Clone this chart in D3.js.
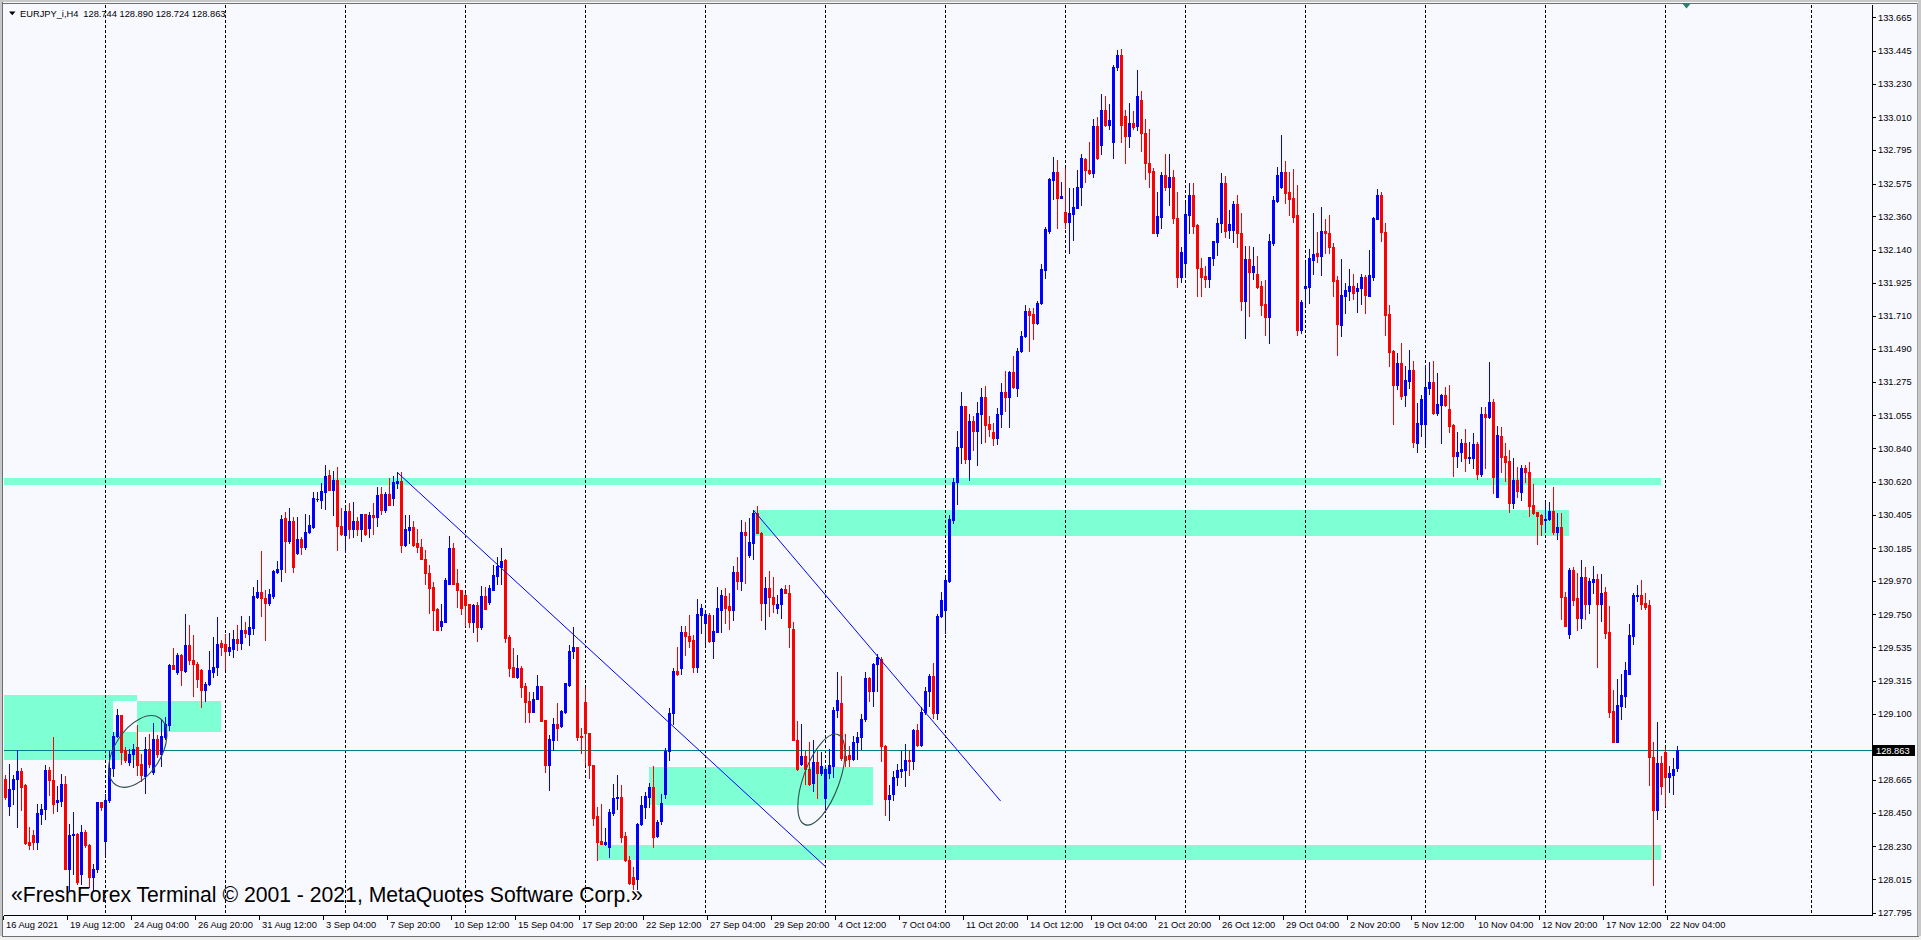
<!DOCTYPE html>
<html><head><meta charset="utf-8">
<script src="https://cdn.jsdelivr.net/npm/d3@7"></script>
<style>html,body{margin:0;padding:0;background:#F8F8FF;overflow:hidden}</style>
</head><body><svg id="c" width="1921" height="940"></svg>
<script>
// ---------------- DATA ----------------
const symbol = "EURJPY_i,H4";
const headerValues = ["128.744", "128.890", "128.724", "128.863"];
const lastPrice = 128.863;

const opens = [
128.674,128.493,128.609,128.674,128.722,128.630,128.259,128.302,128.259,128.445,
128.477,128.729,128.668,128.521,128.528,128.637,128.084,128.302,128.313,128.051,
128.324,128.241,128.029,128.080,128.521,128.265,128.532,128.744,128.952,129.089,
128.860,128.783,128.838,128.882,128.768,128.689,128.871,128.718,128.936,128.838,
128.947,129.024,129.417,129.374,129.483,129.378,129.548,129.450,129.428,129.385,
129.253,129.297,129.374,129.406,129.564,129.559,129.511,129.527,129.592,129.564,
129.647,129.625,129.664,129.865,129.898,129.855,129.826,129.870,130.029,130.051,
130.384,130.231,130.362,130.150,130.244,130.194,130.288,130.325,130.504,130.500,
130.555,130.664,130.565,130.631,130.332,130.270,130.428,130.310,130.362,130.310,
130.406,130.318,130.402,130.391,130.537,130.434,130.537,130.511,130.609,130.625,
130.205,130.303,130.325,130.216,130.194,130.117,130.019,129.932,129.785,129.676,
129.702,129.947,130.183,129.958,129.910,129.877,129.816,129.702,129.811,129.669,
129.873,129.833,129.910,130.004,130.063,130.106,129.604,129.407,129.341,129.396,
129.282,129.182,129.112,129.199,129.282,129.057,128.762,128.927,129.035,129.020,
129.112,129.287,129.512,129.534,128.952,129.178,128.974,128.762,128.428,128.266,
128.244,128.227,128.450,128.544,128.554,128.297,128.143,128.030,128.019,128.375,
128.489,128.554,128.616,128.297,128.397,128.572,128.856,129.101,129.381,129.396,
129.637,129.608,129.586,129.407,129.746,129.696,129.746,129.578,129.637,129.779,
129.870,129.805,129.779,130.030,129.971,130.292,130.139,130.220,130.413,130.286,
129.827,129.921,129.862,129.790,129.818,129.914,129.892,129.658,128.930,128.773,
128.821,128.734,128.646,128.784,128.712,128.544,128.712,128.756,129.127,129.167,
128.820,128.830,128.801,128.911,128.944,129.065,129.335,129.251,129.423,129.456,
128.885,128.543,128.576,128.683,128.722,128.729,128.794,128.788,128.990,128.892,
129.114,129.251,129.348,129.107,129.740,129.782,129.968,130.369,130.620,130.849,
131.119,130.770,131.021,130.956,131.064,131.175,130.999,130.946,130.907,131.064,
131.207,131.175,131.338,131.233,131.478,131.576,131.739,131.723,131.664,131.794,
132.010,132.261,132.596,132.652,132.479,132.391,132.326,132.375,132.414,132.554,
132.733,132.662,132.642,132.955,132.831,133.060,132.962,132.847,133.337,133.418,
133.020,132.887,132.970,132.950,133.120,132.905,132.708,132.660,132.253,132.358,
132.631,132.555,132.616,132.347,131.965,132.056,132.369,132.500,132.303,132.019,
131.969,131.951,132.085,132.194,132.314,132.581,132.271,132.271,132.441,132.253,
131.807,132.078,131.997,131.982,131.903,131.785,131.698,132.188,132.463,132.555,
132.653,132.522,132.478,132.369,131.615,131.888,131.899,132.074,132.122,132.100,
132.266,132.253,132.161,131.943,131.648,131.838,131.873,131.903,131.873,131.888,
131.965,131.838,131.960,132.341,132.500,132.260,131.720,131.479,131.254,131.401,
131.187,131.283,131.351,130.873,131.000,131.000,131.237,131.274,131.069,131.123,
131.187,131.100,130.993,130.789,130.818,130.873,130.777,130.777,130.868,130.668,
131.062,131.046,131.141,130.522,130.918,130.789,130.754,130.481,130.629,130.554,
130.709,130.681,130.470,130.424,130.401,130.367,130.379,130.431,130.288,130.326,
129.866,129.620,130.044,129.855,129.725,129.998,129.821,129.962,129.980,129.821,
129.900,129.634,129.115,128.915,129.149,129.217,129.361,129.611,129.871,129.878,
129.825,129.809,128.814,128.466,128.778,128.846,128.687,128.701,128.744];

const highs = [
128.696,128.768,128.696,128.864,128.744,128.641,128.357,128.335,128.510,128.510,
128.762,128.751,128.947,128.624,128.703,128.689,128.379,128.456,128.318,128.368,
128.335,128.248,128.117,128.521,128.521,128.571,128.853,128.980,129.133,129.089,
128.882,128.871,128.904,129.024,128.838,128.947,128.969,129.039,128.958,129.057,
129.078,129.428,129.533,129.498,129.494,129.752,129.684,129.614,129.439,129.395,
129.308,129.509,129.603,129.734,129.581,129.625,129.629,129.651,129.680,129.739,
129.702,129.739,129.927,129.975,130.165,129.909,129.920,130.040,130.102,130.401,
130.423,130.445,130.391,130.391,130.259,130.406,130.402,130.550,130.550,130.609,
130.729,130.697,130.690,130.718,130.445,130.445,130.478,130.489,130.391,130.412,
130.412,130.423,130.478,130.583,130.587,130.550,130.646,130.659,130.686,130.686,
130.402,130.402,130.362,130.310,130.248,130.172,130.074,129.964,129.794,129.822,
129.986,130.266,130.216,130.047,129.910,129.888,129.822,129.822,129.833,129.938,
129.932,129.942,130.074,130.128,130.187,130.113,129.615,129.531,129.483,129.413,
129.304,129.243,129.239,129.352,129.282,129.057,128.959,129.072,129.173,129.123,
129.302,129.549,129.665,129.538,129.003,129.265,128.974,128.762,128.485,128.506,
128.347,128.478,128.638,128.697,128.631,128.325,128.165,128.095,128.380,128.559,
128.587,128.646,128.756,128.401,128.576,128.878,129.140,129.396,129.538,129.674,
129.674,129.746,129.615,129.849,129.822,129.779,129.757,129.746,129.927,129.910,
129.921,129.888,130.067,130.128,130.369,130.358,130.380,130.434,130.461,130.292,
129.997,130.037,129.993,129.877,129.921,129.943,129.943,129.702,129.053,129.035,
128.856,128.915,128.926,128.856,128.850,128.762,128.871,129.145,129.374,129.346,
128.967,128.885,128.951,128.977,129.097,129.375,129.342,129.433,129.489,129.472,
128.892,128.631,128.722,128.771,128.853,128.902,128.859,129.000,129.032,129.146,
129.277,129.358,129.433,129.750,129.896,129.988,130.402,130.646,130.956,131.207,
131.119,131.064,131.054,131.142,131.233,131.250,131.054,131.005,131.103,131.266,
131.347,131.347,131.445,131.494,131.608,131.781,131.762,131.762,131.804,132.049,
132.293,132.609,132.750,132.727,132.587,132.675,132.544,132.544,132.662,132.766,
132.740,132.847,133.001,133.011,133.164,133.151,133.099,133.353,133.451,133.457,
133.060,133.100,133.050,133.320,133.180,133.000,132.931,132.675,132.522,132.653,
132.769,132.769,132.664,132.522,132.157,132.446,132.581,132.577,132.310,132.085,
132.035,132.096,132.201,132.347,132.647,132.625,132.402,132.463,132.500,132.384,
132.166,132.166,132.161,132.100,131.938,131.943,132.244,132.494,132.682,132.894,
132.725,132.653,132.668,132.566,131.812,132.052,132.144,132.384,132.260,132.424,
132.341,132.369,132.188,131.969,132.078,131.921,132.013,131.982,131.925,131.982,
131.976,132.139,132.358,132.537,132.522,132.314,131.779,131.484,131.462,131.527,
131.381,131.483,131.410,131.137,131.192,131.387,131.403,131.410,131.335,131.198,
131.244,131.255,131.000,130.948,130.902,130.964,130.880,130.937,130.880,131.107,
131.107,131.403,131.160,130.987,130.978,130.873,130.827,130.773,130.720,130.727,
130.727,130.750,130.606,130.424,130.408,130.486,130.486,130.584,130.413,130.413,
129.900,130.053,130.060,130.021,130.105,130.060,129.992,130.071,130.014,130.014,
129.930,129.803,129.252,129.324,129.361,129.438,129.689,129.894,129.946,129.976,
129.894,129.848,128.915,129.042,128.823,128.876,128.755,128.808,128.890];

const lows = [
128.543,128.434,128.510,128.357,128.466,128.248,128.215,128.215,128.215,128.379,
128.412,128.565,128.449,128.462,128.493,128.084,127.942,128.051,127.986,127.986,
128.226,127.964,127.942,128.062,128.466,128.171,128.521,128.689,128.947,128.772,
128.783,128.762,128.751,128.696,128.659,128.580,128.751,128.707,128.816,128.755,
128.936,128.995,129.395,129.363,129.291,129.374,129.428,129.216,129.275,129.144,
129.183,129.286,129.341,129.352,129.483,129.395,129.483,129.472,129.516,129.527,
129.603,129.548,129.625,129.855,129.739,129.581,129.811,129.855,130.023,129.969,
130.030,130.216,130.030,130.144,130.144,130.179,130.281,130.318,130.493,130.450,
130.441,130.565,130.402,130.172,130.270,130.157,130.253,130.259,130.270,130.231,
130.270,130.259,130.275,130.332,130.412,130.419,130.467,130.467,130.576,130.161,
130.200,130.216,130.200,130.161,130.113,129.947,129.757,129.647,129.647,129.647,
129.702,129.947,129.947,129.800,129.750,129.680,129.669,129.636,129.575,129.658,
129.785,129.822,129.910,129.947,129.947,129.571,129.348,129.341,129.335,129.210,
129.046,129.046,129.112,129.199,129.051,128.718,128.598,128.860,128.926,129.014,
129.101,129.280,129.468,128.926,128.839,128.773,128.675,128.369,128.139,128.244,
128.237,128.161,128.434,128.478,128.259,128.135,127.986,127.953,127.953,128.369,
128.419,128.489,128.227,128.292,128.375,128.550,128.795,129.035,129.352,129.359,
129.483,129.538,129.374,129.374,129.626,129.556,129.571,129.468,129.637,129.637,
129.691,129.652,129.717,129.914,129.910,129.954,130.128,130.117,130.281,129.717,
129.658,129.739,129.768,129.757,129.724,129.888,129.538,128.926,128.729,128.762,
128.642,128.631,128.594,128.544,128.697,128.463,128.675,128.686,129.079,128.795,
128.755,128.755,128.794,128.804,128.869,129.055,129.185,129.153,129.251,128.788,
128.435,128.403,128.533,128.631,128.683,128.625,128.696,128.738,128.885,128.885,
129.097,129.153,129.074,129.065,129.733,129.629,129.961,130.353,130.477,130.744,
130.744,130.630,130.826,130.728,130.875,130.881,130.923,130.858,130.868,130.979,
131.087,130.979,131.233,131.184,131.468,131.566,131.478,131.559,131.657,131.788,
131.957,132.251,132.473,132.283,132.479,132.283,132.120,132.205,132.414,132.433,
132.587,132.635,132.619,132.733,132.772,132.955,132.936,132.740,133.320,132.847,
132.712,132.813,132.930,132.926,132.791,132.603,132.555,132.253,132.231,132.281,
132.533,132.435,132.319,131.899,131.932,131.960,132.249,132.249,131.838,131.838,
131.899,131.895,132.041,132.107,132.260,132.223,132.216,132.194,132.161,131.746,
131.560,131.707,131.947,131.888,131.713,131.582,131.532,132.172,132.456,132.544,
132.450,132.369,132.325,131.582,131.597,131.779,131.790,131.982,132.063,131.976,
132.118,132.122,131.838,131.451,131.575,131.724,131.812,131.816,131.735,131.785,
131.729,131.838,131.943,132.341,132.201,131.582,131.379,130.998,131.226,131.160,
131.119,131.237,130.845,130.818,130.918,130.857,131.198,131.062,131.055,130.873,
131.114,130.948,130.659,130.720,130.754,130.691,130.743,130.713,130.636,130.659,
130.709,131.039,130.545,130.522,130.681,130.622,130.424,130.447,130.522,130.499,
130.618,130.395,130.408,130.212,130.272,130.304,130.372,130.276,130.242,129.718,
129.673,129.598,129.809,129.650,129.661,129.718,129.757,129.889,129.406,129.707,
129.598,129.081,128.915,128.915,129.065,129.142,129.361,129.559,129.839,129.787,
129.787,128.632,127.976,128.409,128.573,128.500,128.587,128.573,128.724];

const closes = [
128.554,128.609,128.674,128.722,128.619,128.252,128.237,128.259,128.449,128.477,
128.729,128.668,128.510,128.532,128.637,128.084,128.302,128.313,127.997,128.324,
128.241,128.029,128.080,128.521,128.488,128.532,128.744,128.952,129.089,128.849,
128.794,128.838,128.871,128.762,128.696,128.871,128.772,128.936,128.838,128.952,
129.030,129.417,129.395,129.483,129.385,129.548,129.450,129.428,129.330,129.253,
129.297,129.385,129.406,129.559,129.538,129.511,129.538,129.592,129.564,129.647,
129.629,129.669,129.870,129.898,129.855,129.826,129.887,130.036,130.051,130.379,
130.231,130.362,130.063,130.244,130.194,130.292,130.336,130.515,130.509,130.559,
130.659,130.565,130.631,130.332,130.275,130.428,130.310,130.362,130.310,130.406,
130.275,130.402,130.391,130.533,130.434,130.537,130.471,130.620,130.625,130.205,
130.310,130.325,130.205,130.194,130.117,130.019,129.925,129.778,129.647,129.706,
129.975,130.187,129.953,129.910,129.794,129.811,129.702,129.811,129.669,129.873,
129.789,129.921,130.012,130.069,130.100,129.597,129.400,129.341,129.396,129.276,
129.177,129.112,129.199,129.282,129.051,128.762,128.932,129.035,129.007,129.116,
129.302,129.512,129.534,128.948,128.944,128.970,128.762,128.419,128.259,128.248,
128.259,128.456,128.544,128.554,128.292,128.139,127.990,127.986,128.375,128.500,
128.559,128.620,128.292,128.390,128.515,128.856,129.101,129.381,129.359,129.637,
129.608,129.578,129.407,129.752,129.790,129.752,129.578,129.643,129.790,129.877,
129.790,129.779,130.030,129.971,130.292,130.270,130.227,130.413,130.286,129.827,
129.921,129.862,129.822,129.818,129.914,129.892,129.665,128.930,128.734,128.821,
128.740,128.642,128.784,128.712,128.756,128.734,128.762,129.127,129.188,128.806,
128.794,128.801,128.911,128.944,129.065,129.335,129.251,129.423,129.472,128.885,
128.543,128.566,128.683,128.729,128.738,128.794,128.788,128.990,128.892,129.114,
129.251,129.348,129.107,129.740,129.847,129.978,130.379,130.620,130.849,131.119,
130.770,131.021,130.956,131.070,131.175,130.989,130.966,130.907,131.064,131.207,
131.175,131.338,131.240,131.478,131.576,131.739,131.716,131.664,131.794,132.016,
132.277,132.603,132.652,132.479,132.492,132.326,132.381,132.424,132.554,132.740,
132.662,132.642,132.955,132.740,133.060,132.962,132.994,133.337,133.418,132.960,
132.887,132.970,132.944,133.150,132.905,132.708,132.653,132.253,132.362,132.631,
132.555,132.616,132.347,131.965,132.129,132.376,132.500,132.297,132.019,131.965,
131.951,132.091,132.201,132.319,132.581,132.266,132.310,132.441,132.253,131.807,
132.078,131.997,132.035,131.899,131.779,131.698,132.201,132.467,132.631,132.653,
132.511,132.472,132.358,131.615,131.801,131.903,132.085,132.113,132.100,132.266,
132.253,132.157,131.938,131.654,131.844,131.877,131.903,131.860,131.888,131.965,
131.844,131.976,132.347,132.500,132.260,131.713,131.473,131.254,131.401,131.182,
131.289,131.351,130.880,131.005,131.164,131.244,131.274,131.073,131.130,131.187,
131.123,130.987,130.789,130.818,130.873,130.777,130.782,130.868,130.668,131.062,
131.046,131.141,130.652,130.925,130.782,130.750,130.481,130.629,130.561,130.709,
130.681,130.463,130.417,130.395,130.340,130.379,130.431,130.288,130.326,129.862,
129.673,130.044,129.848,129.725,129.998,129.821,129.969,129.980,129.821,129.894,
129.627,129.110,128.915,129.156,129.224,129.384,129.616,129.878,129.878,129.821,
129.798,128.814,128.466,128.778,128.625,128.687,128.710,128.739,128.863];

// time-axis labels, one every 16 H4 bars starting at bar 0
const xLabels = ["16 Aug 2021","19 Aug 12:00","24 Aug 04:00","26 Aug 20:00","31 Aug 12:00","3 Sep 04:00",
"7 Sep 20:00","10 Sep 12:00","15 Sep 04:00","17 Sep 20:00","22 Sep 12:00","27 Sep 04:00","29 Sep 20:00",
"4 Oct 12:00","7 Oct 04:00","11 Oct 20:00","14 Oct 12:00","19 Oct 04:00","21 Oct 20:00","26 Oct 12:00",
"29 Oct 04:00","2 Nov 20:00","5 Nov 12:00","10 Nov 04:00","12 Nov 20:00","17 Nov 12:00","22 Nov 04:00"];
const xLabelStep = 16;

// price-axis labels
const yTicks = [133.665,133.445,133.230,133.010,132.795,132.575,132.360,132.140,131.925,131.710,131.490,
131.275,131.055,130.840,130.620,130.405,130.185,129.970,129.750,129.535,129.315,129.100,128.880,
128.665,128.450,128.230,128.015,127.795];

// weekly grid (bar index of each Monday 00:00; last one is in the future area)
const weekStarts = [25,55,85,115,145,175,205,235,265,295,325,355,385,415,451.5];

// drawn zones (rectangles), in bar index / price
const zoneFromBar = [-2, 187.1, -2, 27.1, 161, 148.1];
const zoneToBar   = [414, 391, 32.9, 54, 216.9, 414];
const zoneTop     = [130.645, 130.434, 129.221, 129.184, 128.749, 128.237];
const zoneBottom  = [130.600, 130.264, 128.799, 128.980, 128.500, 128.139];

// trend lines
const trendFromBar = [98.1, 187.1];
const trendFromPrice = [130.681, 130.434];
const trendToBar = [205, 248.9];
const trendToPrice = [128.100, 128.527];

// ellipses (centre in bar index / price)
const ellipseBar = [33.2, 204.1];
const ellipsePrice = [128.852, 128.668];

const copyright = "\u00ABFreshForex Terminal \u00A9 2001 - 2021, MetaQuotes Software Corp.\u00BB";

// ---------------- STYLE / LAYOUT ----------------
const W = 1921, H = 940;
const plotL = 4, plotR = 1872, plotT = 5, plotB = 915;
const BG = "#F8F8FF", BULL = "#0000FF", BEAR = "#FF0000", ZONE = "#7FFFD4";
const FONT = "'Liberation Sans', Arial, sans-serif";
const ellipseRx = [40, 48], ellipseRy = [23, 18], ellipseAngle = [-57, -70];

const svg = d3.select("#c");
const x = d3.scaleLinear().domain([0, 418]).range([5, 1677]);
const y = d3.scaleLinear().domain([127.795, 133.665]).range([912.7, 17.3]);
const px = v => Math.round(x(v));
const py = v => Math.round(y(v));

svg.append("rect").attr("width", W).attr("height", H).attr("fill", BG);

// window frame
svg.append("rect").attr("x", 0).attr("y", 0).attr("width", 2).attr("height", H).attr("fill", "#C8C8C8");
svg.append("rect").attr("x", 2).attr("y", 0).attr("width", 1).attr("height", H).attr("fill", "#6E6E6E");
svg.append("rect").attr("x", 0).attr("y", 0).attr("width", W).attr("height", 2).attr("fill", "#C8C8C8");
svg.append("rect").attr("x", 2).attr("y", 3).attr("width", W - 4).attr("height", 1).attr("fill", "#6E6E6E");
svg.append("rect").attr("x", W - 3).attr("y", 0).attr("width", 3).attr("height", H).attr("fill", "#C8C8C8");
svg.append("rect").attr("x", W - 4).attr("y", 3).attr("width", 1).attr("height", H).attr("fill", "#A0A0A0");
svg.append("rect").attr("x", 0).attr("y", 936).attr("width", W).attr("height", 4).attr("fill", "#F0F0F0");
svg.append("rect").attr("x", 2).attr("y", 936).attr("width", W - 4).attr("height", 1).attr("fill", "#6E6E6E");

svg.append("defs").append("clipPath").attr("id", "plot")
  .append("rect").attr("x", plotL).attr("y", plotT).attr("width", plotR - plotL).attr("height", plotB - plotT);
const g = svg.append("g").attr("clip-path", "url(#plot)").attr("shape-rendering", "crispEdges");

// zones
const zones = d3.range(zoneTop.length).map(i => ({
  x0: px(zoneFromBar[i]), x1: px(zoneToBar[i]), y0: py(zoneTop[i]), y1: py(zoneBottom[i])
}));
g.selectAll(".zone").data(zones).join("rect").attr("class", "zone")
  .attr("x", d => d.x0).attr("y", d => d.y0)
  .attr("width", d => d.x1 - d.x0).attr("height", d => d.y1 - d.y0).attr("fill", ZONE);
// overlapping filled rectangles are XOR-ed by the terminal
const overlaps = [];
for (let i = 0; i < zones.length; i++) for (let j = i + 1; j < zones.length; j++) {
  const a = zones[i], b = zones[j];
  const ox0 = Math.max(a.x0, b.x0), ox1 = Math.min(a.x1, b.x1), oy0 = Math.max(a.y0, b.y0), oy1 = Math.min(a.y1, b.y1);
  if (ox1 > ox0 && oy1 > oy0) overlaps.push({ox0, ox1, oy0, oy1});
}
g.selectAll(".ovl").data(overlaps).join("rect").attr("class", "ovl")
  .attr("x", d => d.ox0).attr("y", d => d.oy0).attr("width", d => d.ox1 - d.ox0).attr("height", d => d.oy1 - d.oy0)
  .attr("fill", BG);

// weekly grid
g.selectAll(".grid").data(weekStarts).join("line").attr("class", "grid")
  .attr("x1", d => px(d) + 0.5).attr("x2", d => px(d) + 0.5)
  .attr("y1", plotT).attr("y2", plotB)
  .attr("stroke", "#000").attr("stroke-width", 1).attr("stroke-dasharray", "3,2");

// current price line
g.append("rect").attr("x", plotL).attr("y", py(lastPrice)).attr("width", plotR - plotL).attr("height", 1).attr("fill", "#008080");

// candles
const idx = d3.range(closes.length);
const col = i => closes[i] >= opens[i] ? BULL : BEAR;
g.selectAll(".wick").data(idx).join("rect").attr("class", "wick")
  .attr("x", i => px(i)).attr("width", 1)
  .attr("y", i => py(highs[i]))
  .attr("height", i => Math.max(1, py(lows[i]) - py(highs[i]) + 1))
  .attr("fill", col);
g.selectAll(".body").data(idx).join("rect").attr("class", "body")
  .attr("x", i => px(i) - 1).attr("width", 3)
  .attr("y", i => py(Math.max(opens[i], closes[i])))
  .attr("height", i => Math.max(1, py(Math.min(opens[i], closes[i])) - py(Math.max(opens[i], closes[i])) + 1))
  .attr("fill", col);

// trend lines
const g2 = svg.append("g").attr("clip-path", "url(#plot)");
g2.selectAll(".trend").data(d3.range(trendFromBar.length)).join("line").attr("class", "trend")
  .attr("x1", i => x(trendFromBar[i])).attr("y1", i => y(trendFromPrice[i]))
  .attr("x2", i => x(trendToBar[i])).attr("y2", i => y(trendToPrice[i]))
  .attr("stroke", "#0000FF").attr("stroke-width", 1);

// ellipses
g2.selectAll(".ell").data(d3.range(ellipseBar.length)).join("ellipse").attr("class", "ell")
  .attr("cx", 0).attr("cy", 0).attr("rx", i => ellipseRx[i]).attr("ry", i => ellipseRy[i])
  .attr("transform", i => `translate(${x(ellipseBar[i])},${y(ellipsePrice[i])}) rotate(${ellipseAngle[i]})`)
  .attr("fill", "none").attr("stroke", "#2F4F4F").attr("stroke-width", 1.1);

// axes lines
svg.append("rect").attr("x", plotR).attr("y", plotT).attr("width", 1).attr("height", plotB - plotT + 1).attr("fill", "#000");
svg.append("rect").attr("x", plotL).attr("y", plotB).attr("width", plotR - plotL + 1).attr("height", 1).attr("fill", "#000");

// price axis
const yAx = svg.append("g").attr("shape-rendering", "crispEdges");
yAx.selectAll(".yt").data(yTicks).join("rect").attr("class", "yt")
  .attr("x", plotR + 1).attr("y", d => py(d)).attr("width", 3).attr("height", 1).attr("fill", "#000");
svg.append("g").selectAll(".yl").data(yTicks).join("text").attr("class", "yl")
  .attr("x", 1878).attr("y", d => y(d) + 3.4)
  .attr("font-family", FONT).attr("font-size", "9.3px").attr("fill", "#000")
  .text(d => d.toFixed(3));

// last price box
svg.append("rect").attr("x", 1873).attr("y", 745).attr("width", 42).attr("height", 11).attr("fill", "#000");
svg.append("text").attr("x", 1876).attr("y", y(lastPrice) + 4.3)
  .attr("font-family", FONT).attr("font-size", "9.3px").attr("fill", "#fff").text(lastPrice.toFixed(3));

// time axis
const xl = xLabels.map((t, k) => ({t, bar: k * xLabelStep}));
svg.append("g").attr("shape-rendering", "crispEdges").selectAll(".xt").data(xl).join("rect")
  .attr("x", d => px(d.bar) - 2).attr("y", plotB + 1).attr("width", 1).attr("height", 4).attr("fill", "#000");
svg.append("g").selectAll(".xl").data(xl).join("text")
  .attr("x", d => px(d.bar) + 1).attr("y", 927.5)
  .attr("font-family", FONT).attr("font-size", "9.3px").attr("fill", "#000")
  .text(d => d.t);

// header
svg.append("path").attr("d", "M9,11.5 L15.5,11.5 L12.25,15.2 Z").attr("fill", "#000");
svg.append("text").attr("x", 20).attr("y", 17.3).attr("font-family", FONT).attr("font-size", "9.3px").attr("fill", "#000").text(symbol);
svg.append("text").attr("x", 83.3).attr("y", 17.3).attr("font-family", FONT).attr("font-size", "9.3px").attr("fill", "#000")
  .text(headerValues.join(" "));

// chart-shift marker
svg.append("path").attr("d", "M1682,3 L1691,3 L1686.5,8.5 Z").attr("fill", "#2E7D6E");

// copyright
const cp = svg.append("text").attr("x", 11).attr("y", 902).attr("font-family", FONT)
  .attr("font-size", "21px").attr("fill", "#000").text(copyright);
const wNow = cp.node().getComputedTextLength();
if (wNow > 0) cp.attr("font-size", (21 * 632 / wNow).toFixed(2) + "px");
</script>
</body></html>
